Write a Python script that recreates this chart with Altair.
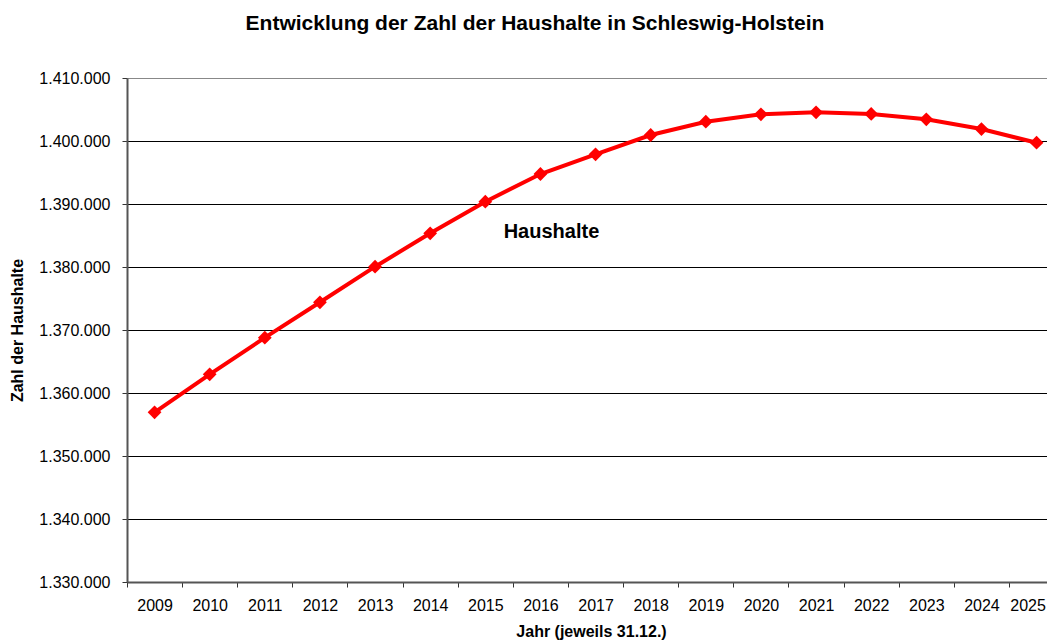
import altair as alt
import pandas as pd

years = [2009, 2010, 2011, 2012, 2013, 2014, 2015, 2016, 2017,
         2018, 2019, 2020, 2021, 2022, 2023, 2024, 2025]
households = [1356940, 1362970, 1368780, 1374400, 1380050, 1385350,
              1390370, 1394760, 1397890, 1400950, 1403060, 1404240,
              1404550, 1404290, 1403440, 1401900, 1399730]
y_ticks = [1330000, 1340000, 1350000, 1360000, 1370000, 1380000,
           1390000, 1400000, 1410000]
series_label = ["Haushalte"]
label_x = [2016.2]
label_y = [1385600]

FONT = "Liberation Sans"
BAND = 55.125
W = 920
H = 504

df = pd.DataFrame({"Jahr": years, "Haushalte": households})
ann = pd.DataFrame({"x": label_x, "y": label_y, "t": series_label})

x_scale = alt.Scale(domain=[2008.5, 2008.5 + W / BAND], nice=False, zero=False)
y_scale = alt.Scale(domain=[1330000, 1410000], nice=False, zero=False)

x_axis = alt.Axis(
    values=years, format="d", title="Jahr (jeweils 31.12.)",
    tickOffset=-BAND / 2,
    labelOffset=alt.condition(f"datum.value == {years[-1]}", alt.value(BAND / 2 - 9), alt.value(BAND / 2)),
    grid=False,
    tickSize=5, labelPadding=10, titlePadding=10,
    labelOverlap=False, labelFlush=False,
    labelFont=FONT, labelFontSize=16, labelColor="black",
    titleFont=FONT, titleFontSize=16, titleFontWeight="bold", titleColor="black",
    titleX=(1055 - 127) / 2,
    domainColor="#555555", domainWidth=2, tickColor="#333333", tickWidth=1,
)
y_axis = alt.Axis(
    values=y_ticks, title="Zahl der Haushalte",
    labelExpr="replace(format(datum.value, ','), regexp(',', 'g'), '.')",
    tickSize=5, labelPadding=12, titlePadding=13,
    labelFont=FONT, labelFontSize=16, labelColor="black",
    titleFont=FONT, titleFontSize=16, titleFontWeight="bold", titleColor="black",
    domainColor="#555555", domainWidth=2, tickColor="#333333", tickWidth=1,
    grid=True,
    gridColor=alt.condition("datum.value == 1410000", alt.value("#888888"), alt.value("black")),
    gridWidth=1,
)

base = alt.Chart(df)
line = base.mark_line(color="#FF0000", strokeWidth=4).encode(
    x=alt.X("Jahr:Q", scale=x_scale, axis=x_axis),
    y=alt.Y("Haushalte:Q", scale=y_scale, axis=y_axis),
)
pts = base.mark_point(shape="diamond", filled=True, color="#FF0000", size=190, opacity=1).encode(
    x=alt.X("Jahr:Q", scale=x_scale),
    y=alt.Y("Haushalte:Q", scale=y_scale),
)
label = alt.Chart(ann).mark_text(
    font=FONT, fontSize=20, fontWeight="bold", color="black", align="center", baseline="middle"
).encode(
    x=alt.X("x:Q", scale=x_scale),
    y=alt.Y("y:Q", scale=y_scale),
    text="t:N",
)

chart = alt.layer(line, pts, label).properties(
    width=W, height=H,
    title=alt.TitleParams(
        "Entwicklung der Zahl der Haushalte in Schleswig-Holstein",
        font=FONT, fontSize=21, fontWeight="bold", color="black",
        anchor="middle", dx=-52, offset=36,
    ),
    autosize=alt.AutoSizeParams(type="none"),
    padding={"left": 119, "top": 70, "right": 0, "bottom": 61},
).configure_view(stroke=None).configure(background="white")

chart.save("out.html", embed_options={"renderer": "svg", "actions": False})
